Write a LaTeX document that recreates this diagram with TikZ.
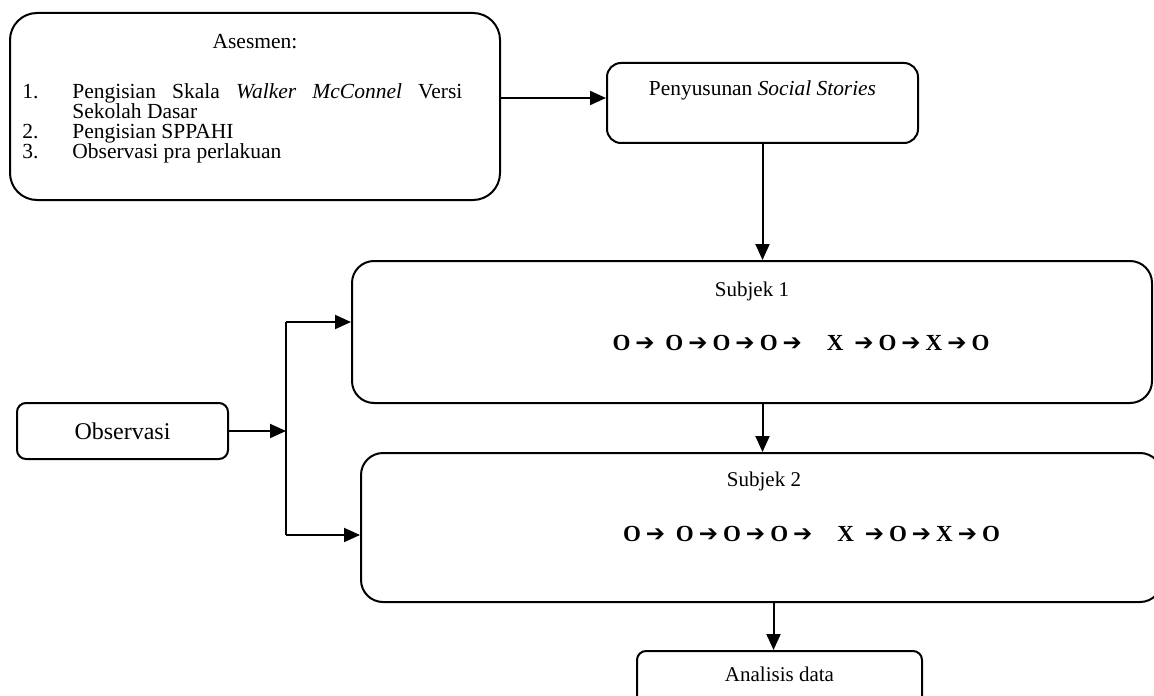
\documentclass[tikz,border=0pt]{standalone}
\usepackage{fontspec}
\setmainfont{Liberation Serif}
\newfontfamily\arrowfont{DejaVu Sans}
\usetikzlibrary{arrows.meta,positioning}
\newcommand{\ra}{\hspace{2.5pt}{\arrowfont\symbol{"2794}}\hspace{2.5pt}}
\newcommand{\seqtext}{O\ra\ O\ra O\ra O\ra\hspace{10pt}X\ \ra O\ra X\ra O}

\begin{document}
\begin{tikzpicture}[x=0.5pt,y=-0.5pt,>={Triangle[length=8pt,width=7pt]},
box/.style={draw,line width=1pt,inner sep=0pt},
txt/.style={font=\fontsize{10.5}{12}\selectfont,inner sep=0pt},
seq/.style={font=\fontsize{11.5}{13}\selectfont\bfseries,inner sep=0pt},
link/.style={->,line width=1pt}]
\useasboundingbox (0,0) rectangle (1154,695);
\clip (0,0) rectangle (1154,695);
% boxes
\node[box,rounded corners=13.5pt,minimum width=245pt,minimum height=93.5pt] (asesmen) at (255,106.5) {};
\node[box,rounded corners=7pt,minimum width=155.5pt,minimum height=40pt] (penyusunan) at (762.5,103) {};
\node[box,rounded corners=11pt,minimum width=400pt,minimum height=71pt] (subjek1) at (752,332) {};
\node[box,rounded corners=11pt,minimum width=400.5pt,minimum height=74.5pt] (subjek2) at (761.5,527.5) {};
\node[box,rounded corners=4.5pt,minimum width=105.5pt,minimum height=28pt,font=\fontsize{12}{14}\selectfont] (observasi) at (122.5,431) {Observasi};
\node[box,rounded corners=4.5pt,minimum width=142.5pt,minimum height=35pt] (analisis) at (779.5,686) {};
% texts
\node[txt,font=\fontsize{10.75}{12}\selectfont] (asesmentitle) at ([yshift=-15pt]asesmen.north) {Asesmen:};
\node[txt,font=\fontsize{10.75}{10}\selectfont,anchor=north west,text width=220pt,align=justify] (asesmenlist) at ([xshift=6.5pt,yshift=-35.5pt]asesmen.north west) {%
\tolerance=9999\hyphenpenalty=10000\lineskiplimit=-10pt
\hangindent=25pt\hangafter=1\makebox[25pt][l]{1.}Pengisian Skala \textit{Walker McConnel} Versi Sekolah Dasar\par
\makebox[25pt][l]{2.}Pengisian SPPAHI\par
\makebox[25pt][l]{3.}Observasi pra perlakuan};
\node[txt,font=\fontsize{10.7}{12}\selectfont] (penyusunantxt) at ([yshift=-14pt]penyusunan.north) {Penyusunan \textit{Social Stories}};
\node[txt] (subjek1title) at ([yshift=-15.5pt]subjek1.north) {Subjek 1};
\node[seq] (subjek1seq) at ([xshift=24.5pt,yshift=-5.5pt]subjek1.center) {\seqtext};
\node[txt] (subjek2title) at ([xshift=1.25pt,yshift=-14.5pt]subjek2.north) {Subjek 2};
\node[seq] (subjek2seq) at ([xshift=25pt,yshift=-3pt]subjek2.center) {\seqtext};
\node[txt] (analisistxt) at ([yshift=-12pt]analisis.north) {Analisis data};
% connectors
\coordinate (a1) at ([yshift=2.5pt]penyusunan.west);
\draw[link] (a1 -| asesmen.east) -- (a1);
\draw[link] (penyusunan.south) -- (penyusunan.south |- subjek1.north);
\draw[link] (penyusunan.south |- subjek1.south) -- (penyusunan.south |- subjek2.north);
\coordinate (a4) at ([xshift=-3pt]analisis.north);
\draw[link] (a4 |- subjek2.south) -- (a4);
\coordinate (split) at (286,432);
\coordinate (splitup) at (286,322);
\coordinate (splitdn) at (286,535);
\draw[link] (observasi.east) -- (observasi.east -| split);
\draw[line width=1pt] (splitup) -- (splitdn);
\draw[link] (splitup) -- (splitup -| subjek1.west);
\draw[link] (splitdn) -- (splitdn -| subjek2.west);
\end{tikzpicture}
\end{document}
